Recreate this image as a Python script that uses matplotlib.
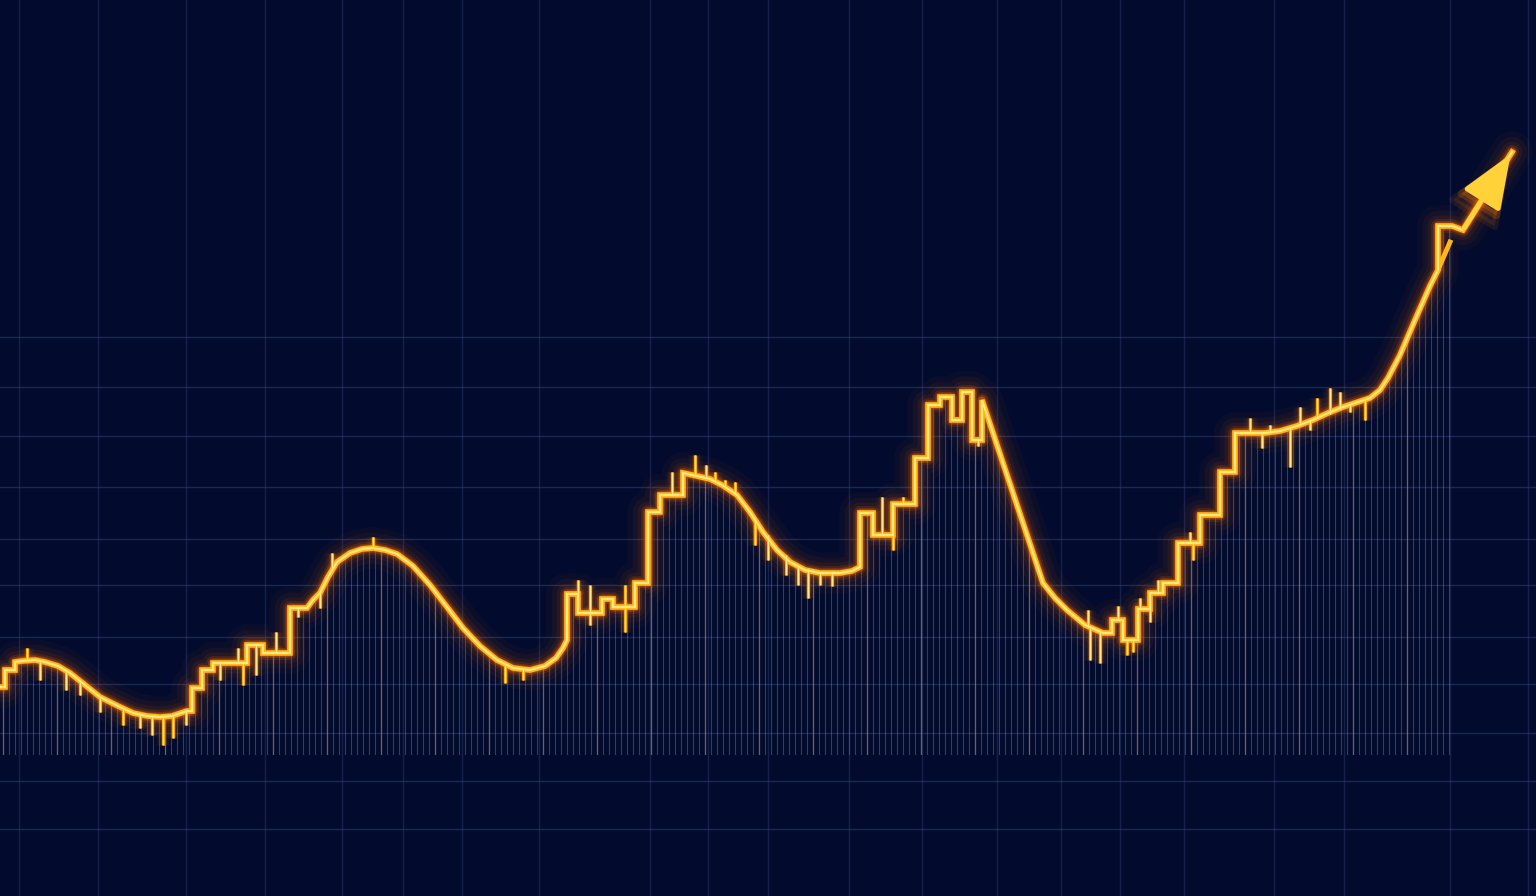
import numpy as np
import matplotlib
matplotlib.use("Agg")
import matplotlib.pyplot as plt

# main trace: x position, value above the baseline
path_x = [0, 5, 5, 15, 15, 22, 35, 45, 58, 70, 85, 100, 118, 133, 147, 160, 172, 187, 192, 192,
          202, 202, 213, 213, 247, 247, 263, 263, 290, 290, 307, 313, 320, 328, 337, 350, 362, 373,
          385, 397, 413, 430, 447, 463, 480, 497, 513, 530, 545, 556, 563, 567, 567, 578, 578, 602,
          602, 613, 613, 635, 635, 648, 648, 660, 660, 683, 683, 697, 710, 722, 737, 750, 763, 777,
          790, 805, 820, 840, 852, 860, 860, 873, 873, 893, 893, 915, 915, 928, 928, 940, 940, 952,
          952, 962, 962, 972, 972, 982, 982, 1043, 1055, 1067, 1085, 1103, 1112, 1112, 1123, 1123,
          1138, 1138, 1150, 1150, 1163, 1163, 1178, 1178, 1200, 1200, 1220, 1220, 1235, 1235, 1265,
          1280, 1297, 1313, 1328, 1343, 1358, 1370, 1380, 1388, 1400, 1415, 1430, 1438, 1438, 1452,
          1463]
path_v = [68, 68, 85, 85, 93, 94, 95, 93, 89, 82, 70, 58, 49, 42, 39, 38, 39, 44, 44, 67,
          67, 85, 85, 92, 92, 110, 110, 102, 102, 147, 147, 155, 162, 178, 193, 202, 206, 207,
          205, 201, 189, 170, 148, 127, 109, 95, 87, 85, 89, 97, 107, 115, 161, 161, 142, 142,
          156, 156, 148, 148, 172, 172, 243, 243, 260, 260, 282, 279, 276, 270, 260, 243, 223, 205,
          193, 185, 182, 182, 184, 188, 242, 242, 220, 220, 251, 251, 297, 297, 350, 350, 358, 358,
          335, 335, 363, 363, 315, 315, 355, 172, 157, 145, 130, 122, 122, 135, 135, 115,
          115, 146, 146, 162, 162, 172, 172, 212, 212, 240, 240, 283, 283, 322, 322,
          324, 329, 335, 342, 348, 353, 357, 365, 377, 400, 435, 469, 485, 529, 529,
          525]

# final arrow segment
arrow_x = [1463, 1512]
arrow_v = [525, 603]

# short wicks hanging off the trace: x, value on the trace, value at the tip
spike_x = [27, 40, 66, 80, 100, 123, 140, 152, 163, 173, 186, 220, 238, 243, 256, 276, 298,
           320, 332, 373, 505, 523, 578, 590, 590, 625, 625, 672, 695, 706, 715, 725, 735, 755,
           768, 786, 798, 808, 820, 832, 882, 893, 903, 978, 1088, 1090, 1100, 1118, 1127,
           1133, 1140, 1150, 1158, 1190, 1193, 1250, 1262, 1270, 1290, 1300, 1310, 1317, 1330,
           1340, 1350, 1365]
spike_from = [95, 93, 83, 75, 58, 47, 41, 39, 38, 39, 44, 92, 92, 92, 110, 102, 147,
              162, 185, 207, 91, 86, 161, 142, 142, 148, 148, 260, 279, 277, 274, 268, 262, 237,
              220, 200, 190, 186, 182, 182, 220, 220, 251, 315, 128, 127, 123, 135, 115,
              115, 146, 146, 162, 212, 212, 322, 322, 323, 327, 331, 334, 337, 341,
              346, 350, 355]
spike_to = [107, 75, 65, 60, 43, 30, 27, 20, 10, 17, 30, 75, 107, 70, 80, 123, 138,
            147, 202, 218, 72, 75, 175, 170, 130, 170, 123, 283, 300, 290, 283, 275, 273, 210,
            195, 180, 170, 157, 170, 169, 258, 205, 258, 309, 145, 95, 92, 149, 100,
            103, 157, 133, 175, 223, 195, 337, 307, 330, 288, 348, 325, 357, 367,
            363, 343, 335]

# faint background grid
grid_x = [19, 98, 186, 265, 342, 403, 462, 539, 650, 708, 768, 849, 922, 997, 1061, 1120,
          1184, 1274, 1344, 1450, 1528]
grid_v = [418, 368, 319, 268, 216, 170, 118, 71, 22, -26, -74]

bg = "#020b2d"
fig = plt.figure(figsize=(15.36, 8.96), dpi=100, facecolor=bg)
ax = fig.add_axes([0, 0, 1, 1])
ax.set_facecolor(bg)
ax.set_xlim(0, 1536)
ax.set_ylim(-141, 755)
ax.axis("off")

for gx in grid_x:
    ax.axvline(gx, color="#34447a", lw=1.0, alpha=0.4, zorder=1)
for gy in grid_v:
    ax.axhline(gy, color="#34447a", lw=1.0, alpha=0.5, zorder=1)

# thin stems below the trace, clipped to the area under it
area = ax.fill_between(path_x, path_v, 0, color="none", lw=0)
clip = area.get_paths()[0]
stem_x = np.arange(3, 1452, 6.0)
stems = ax.vlines(stem_x, 0, 560, color="#a8a0a8", lw=0.8, alpha=0.33, zorder=2)
stems.set_clip_path(clip, ax.transData)
stems2 = ax.vlines(stem_x[::9], 0, 560, color="#d8b890", lw=1.0, alpha=0.3, zorder=2)
stems2.set_clip_path(clip, ax.transData)

# glowing trace
all_x = path_x + arrow_x
all_v = path_v + arrow_v
glow = [(30, 0.035), (22, 0.05), (15, 0.08), (10, 0.14), (7, 0.25), (5, 0.4)]
for w, a in glow:
    ax.plot(all_x, all_v, color="#ff6a00", lw=w, alpha=a, solid_capstyle="round",
            solid_joinstyle="round", zorder=3)
    ax.vlines(spike_x, spike_from, spike_to, color="#ff8000", lw=w * 0.35, alpha=a, zorder=3)
ax.vlines(spike_x, spike_from, spike_to, color="#ffbb1a", lw=2.0, zorder=4)
ax.vlines(spike_x, spike_from, spike_to, color="#fff0a0", lw=0.6, zorder=5)
ax.plot(all_x, all_v, color="#ffb81a", lw=4.0, solid_joinstyle="miter", zorder=4)
ax.plot(all_x, all_v, color="#ffe880", lw=1.5, solid_joinstyle="miter", zorder=5)

# overshoot of the last steep leg
ax.plot([1438, 1450], [485, 513], color="#ffb81a", lw=3.5, zorder=4)

# arrow head
for ms, a in [(30, 0.1), (25, 0.2)]:
    ax.annotate("", xy=(arrow_x[1], arrow_v[1]), xytext=(arrow_x[0], arrow_v[0]),
                arrowprops=dict(arrowstyle="-|>,head_length=1.45,head_width=0.6",
                                color="#ff7a00", lw=5, alpha=a, mutation_scale=ms),
                zorder=5)
ax.annotate("", xy=(arrow_x[1], arrow_v[1]), xytext=(arrow_x[0], arrow_v[0]),
            arrowprops=dict(arrowstyle="-|>,head_length=1.5,head_width=0.6",
                            color="#ffd23a", lw=3.5, mutation_scale=22),
            zorder=6)

fig.savefig("out.png", dpi=100, facecolor=bg)
